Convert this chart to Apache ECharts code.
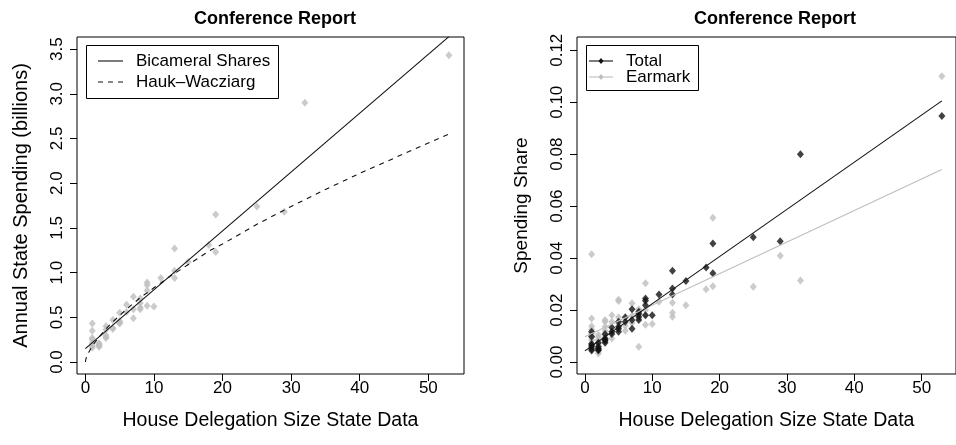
<!DOCTYPE html>
<html><head><meta charset="utf-8">
<script src="https://cdn.jsdelivr.net/npm/echarts@6/dist/echarts.min.js"></script>
<style>html,body{margin:0;padding:0;background:#fff}#c{width:956px;height:445px}</style>
</head><body><div id="c"></div>
<script>
// ---- data ----
const houseSeats = [1,1,1,1,1,1,1, 2,2,2,2,2, 3,3,3,3,3, 4,4,4, 5,5,5,5, 6,6, 7,7,7, 8,8,8,8, 9,9,9,9, 10, 11, 13,13,13, 15, 18, 19,19, 25, 29, 32, 53];
const annualSpending = [0.43,0.35,0.27,0.25,0.18,0.16,0.21, 0.21,0.18,0.17,0.20,0.19, 0.40,0.36,0.28,0.27,0.30, 0.47,0.38,0.37, 0.55,0.44,0.43,0.46, 0.64,0.56, 0.73,0.59,0.49, 0.71,0.66,0.59,0.61, 0.89,0.86,0.80,0.63, 0.62, 0.94, 1.27,1.02,0.94, 1.12, 1.31, 1.65,1.23, 1.74, 1.68, 2.90, 3.43];
const totalShare = [0.0117,0.0097,0.0065,0.0058,0.0044,0.0050,0.0070, 0.0074,0.0053,0.0044,0.0048,0.0060, 0.0108,0.0091,0.0082,0.0074,0.0086, 0.0133,0.0117,0.0108, 0.0155,0.0136,0.0117,0.0128, 0.0172,0.0155, 0.0203,0.0162,0.0128, 0.0194,0.0174,0.0162,0.0185, 0.0245,0.0236,0.0219,0.0180, 0.0180, 0.0260, 0.0351,0.0283,0.0260, 0.0312, 0.0364, 0.0456,0.0342, 0.0480, 0.0465, 0.0800, 0.0947];
const earmarkShare = [0.0415,0.0168,0.0138,0.0100,0.0085,0.0110,0.0125, 0.0033,0.0085,0.0095,0.0105,0.0070, 0.0162,0.0155,0.0136,0.0120,0.0100, 0.0180,0.0155,0.0091, 0.0240,0.0235,0.0172,0.0150, 0.0120,0.0140, 0.0226,0.0177,0.0150, 0.0059,0.0203,0.0170,0.0185, 0.0303,0.0144,0.0180,0.0200, 0.0146, 0.0232, 0.0228,0.0190,0.0174, 0.0219, 0.0280, 0.0555,0.0292, 0.0290, 0.0409, 0.0314, 0.1100];
const fitX = [0, 53];
const bicameralFit = [0.15, 3.64];
const totalFit = [0.0043, 0.1005];
const earmarkFit = [0.0097, 0.0741];
const hwX = [0,0.1,0.25,0.5,1,2,3,4,6,8,10,12,15,18,20,25,30,35,40,45,50,53];
const hwY = [0,0.04,0.07,0.11,0.18,0.28,0.37,0.45,0.59,0.72,0.83,0.94,1.09,1.24,1.32,1.54,1.74,1.93,2.11,2.28,2.45,2.55];
const xTicks = [0,10,20,30,40,50];
const yTicksLeft = [0,0.5,1,1.5,2,2.5,3,3.5];
const yTicksRight = [0,0.02,0.04,0.06,0.08,0.10,0.12];
const titleText = 'Conference Report';
const xTitle = 'House Delegation Size State Data';
const yTitleLeft = 'Annual State Spending (billions)';
const yTitleRight = 'Spending Share';
const legendLeft = ['Bicameral Shares', 'Hauk\u2013Wacziarg'];
const legendRight = ['Total', 'Earmark'];

// ---- styles ----
const F = '"Liberation Sans", Arial, Helvetica, sans-serif';
const GRAY = '#bebebe';
const BLACK = '#111111';
const pairs = (xs, ys) => xs.map((x, i) => [x, ys[i]]);

function xAxis(gridIndex, min, max) {
  return {
    type: 'value', gridIndex, min, max,
    name: xTitle, nameLocation: 'middle', nameGap: 37,
    nameTextStyle: {fontSize: 19.5, color: '#000', fontFamily: F},
    axisLine: {show: false, onZero: false},
    axisTick: {show: true, length: 7, customValues: xTicks, lineStyle: {color: '#000'}},
    axisLabel: {customValues: xTicks, margin: 6, fontSize: 17, color: '#000', fontFamily: F},
    splitLine: {show: false}
  };
}
function yAxis(gridIndex, min, max, ticks, dec, name, nameSize) {
  return {
    type: 'value', gridIndex, min, max,
    name, nameLocation: 'middle', nameGap: 46,
    nameTextStyle: {fontSize: nameSize, color: '#000', fontFamily: F},
    axisLine: {show: false, onZero: false},
    axisTick: {show: true, length: 7, customValues: ticks, lineStyle: {color: '#000'}},
    axisLabel: {customValues: ticks, margin: 11, rotate: 90, fontSize: 17, color: '#000', fontFamily: F,
      formatter: v => Number(v).toFixed(dec)},
    splitLine: {show: false}
  };
}

const chart = echarts.init(document.getElementById('c'));
chart.setOption({
  animation: false,
  backgroundColor: '#fff',
  title: [
    {text: titleText, left: 270, top: 5, textAlign: 'center', textStyle: {fontSize: 18, fontWeight: 'bold', color: '#000', fontFamily: F}},
    {text: titleText, left: 770, top: 5, textAlign: 'center', textStyle: {fontSize: 18, fontWeight: 'bold', color: '#000', fontFamily: F}}
  ],
  grid: [
    {left: 77, right: 492, top: 37, bottom: 71, show: true, borderColor: '#000', borderWidth: 1, backgroundColor: 'transparent'},
    {left: 577, right: -7, top: 37, bottom: 71, show: true, borderColor: '#000', borderWidth: 1, backgroundColor: 'transparent'}
  ],
  xAxis: [xAxis(0, -1.22, 55.2), xAxis(1, -1.17, 55.1)],
  yAxis: [
    yAxis(0, -0.134, 3.635, yTicksLeft, 1, yTitleLeft, 20),
    yAxis(1, -0.0046, 0.1251, yTicksRight, 2, yTitleRight, 19)
  ],
  series: [
    {type: 'scatter', name: 'States', xAxisIndex: 0, yAxisIndex: 0, symbol: 'diamond', symbolSize: [7, 8],
      itemStyle: {color: GRAY}, data: pairs(houseSeats, annualSpending)},
    {type: 'line', name: legendLeft[0], xAxisIndex: 0, yAxisIndex: 0, symbol: 'none',
      lineStyle: {color: BLACK, width: 1.1}, data: pairs(fitX, bicameralFit), z: 3},
    {type: 'line', name: legendLeft[1], xAxisIndex: 0, yAxisIndex: 0, symbol: 'none',
      lineStyle: {color: BLACK, width: 1.1, type: [5, 5]}, data: pairs(hwX, hwY), z: 3},
    {type: 'scatter', name: legendRight[1], xAxisIndex: 1, yAxisIndex: 1, symbol: 'diamond', symbolSize: [7, 8],
      itemStyle: {color: GRAY}, data: pairs(houseSeats, earmarkShare)},
    {type: 'scatter', name: legendRight[0], xAxisIndex: 1, yAxisIndex: 1, symbol: 'diamond', symbolSize: [7, 8],
      itemStyle: {color: BLACK}, data: pairs(houseSeats, totalShare)},
    {type: 'line', name: legendRight[1] + ' fit', xAxisIndex: 1, yAxisIndex: 1, symbol: 'none',
      lineStyle: {color: GRAY, width: 1.1}, data: pairs(fitX, earmarkFit), z: 3},
    {type: 'line', name: legendRight[0] + ' fit', xAxisIndex: 1, yAxisIndex: 1, symbol: 'none',
      lineStyle: {color: BLACK, width: 1.1}, data: pairs(fitX, totalFit), z: 3}
  ],
  graphic: [
    // left legend
    {type: 'rect', z: 100, shape: {x: 86.5, y: 45.5, width: 192, height: 53}, style: {fill: '#fff', stroke: '#000', lineWidth: 1}},
    {type: 'line', z: 101, shape: {x1: 98, y1: 61, x2: 123, y2: 61}, style: {stroke: BLACK, lineWidth: 1.1}},
    {type: 'line', z: 101, shape: {x1: 98, y1: 82, x2: 123, y2: 82}, style: {stroke: BLACK, lineWidth: 1.1, lineDash: [5, 5]}},
    {type: 'text', z: 101, x: 136, y: 61, style: {text: legendLeft[0], fontSize: 17, fontFamily: F, fill: '#000', verticalAlign: 'middle'}},
    {type: 'text', z: 101, x: 136, y: 82, style: {text: legendLeft[1], fontSize: 17, fontFamily: F, fill: '#000', verticalAlign: 'middle'}},
    // right legend
    {type: 'rect', z: 100, shape: {x: 586.5, y: 45.5, width: 112, height: 45}, style: {fill: '#fff', stroke: '#000', lineWidth: 1}},
    {type: 'line', z: 101, shape: {x1: 589, y1: 61, x2: 613, y2: 61}, style: {stroke: BLACK, lineWidth: 1.1}},
    {type: 'polygon', z: 102, shape: {points: [[601, 58], [603.5, 61], [601, 64], [598.5, 61]]}, style: {fill: BLACK}},
    {type: 'line', z: 101, shape: {x1: 589, y1: 77, x2: 613, y2: 77}, style: {stroke: GRAY, lineWidth: 1.1}},
    {type: 'polygon', z: 102, shape: {points: [[601, 74], [603.5, 77], [601, 80], [598.5, 77]]}, style: {fill: GRAY}},
    {type: 'text', z: 101, x: 626, y: 61, style: {text: legendRight[0], fontSize: 17, fontFamily: F, fill: '#000', verticalAlign: 'middle'}},
    {type: 'text', z: 101, x: 626, y: 77, style: {text: legendRight[1], fontSize: 17, fontFamily: F, fill: '#000', verticalAlign: 'middle'}}
  ]
});
</script>
</body></html>
